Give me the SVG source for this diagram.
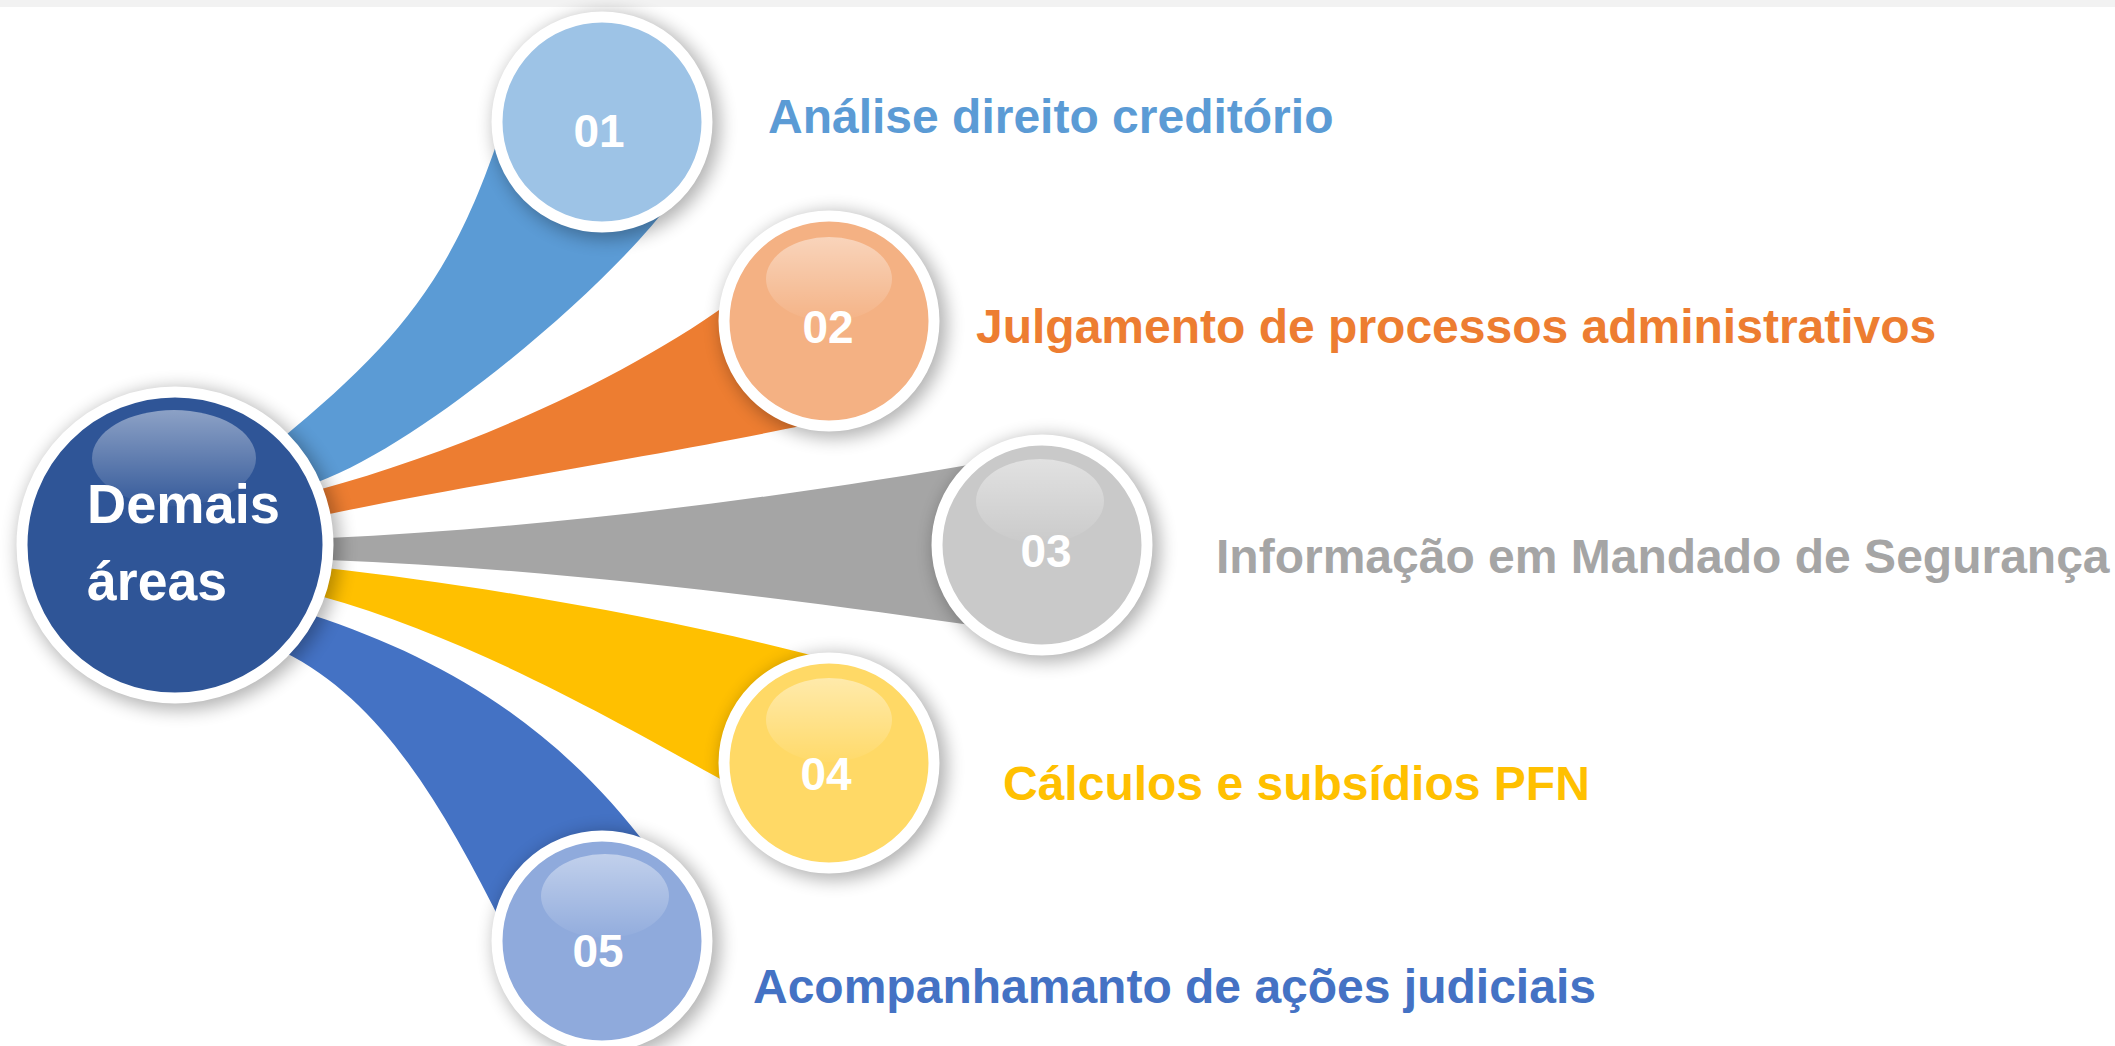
<svg xmlns="http://www.w3.org/2000/svg" width="2115" height="1046" viewBox="0 0 2115 1046">
<defs>
<style>
.num{font-family:"Liberation Sans",Arial,sans-serif;font-weight:bold;font-size:46px;fill:#ffffff;text-anchor:middle}
.lbl{font-family:"Liberation Sans",Arial,sans-serif;font-weight:bold;font-size:48px}
.ring{stroke:#ffffff;stroke-width:11}
.shadow{fill:#000000;opacity:0.3}
.gloss{fill:url(#gloss)}
</style>
<filter id="blur" x="-40%" y="-40%" width="180%" height="180%">
<feGaussianBlur stdDeviation="9"/>
</filter>
<linearGradient id="gloss" x1="0" y1="0" x2="0" y2="1">
<stop offset="0" stop-color="#ffffff" stop-opacity="0.45"/>
<stop offset="1" stop-color="#ffffff" stop-opacity="0.03"/>
</linearGradient>
</defs>
<rect x="0" y="0" width="2115" height="1046" fill="#ffffff"/>
<rect x="0" y="0" width="2115" height="7" fill="#f2f2f2"/>
<g id="connectors">
<path d="M 280,440 C 398,342 455,278 505,118 L 672,200 C 615,280 430,440 318,482 Z" fill="#5b9bd5"/>
<path d="M 318,490 C 480,446 640,370 740,295 L 805,425 C 680,452 450,488 325,515 Z" fill="#ed7d31"/>
<path d="M 328,538 C 550,528 800,495 985,462 L 990,628 C 800,600 550,568 328,560 Z" fill="#a5a5a5"/>
<path d="M 326,568 C 480,585 680,620 830,660 L 740,790 C 640,735 480,640 320,596 Z" fill="#ffc000"/>
<path d="M 312,615 C 450,660 560,730 650,850 L 505,930 C 440,800 380,700 284,652 Z" fill="#4472c4"/>
</g>
<g id="node-center">
<circle class="shadow" cx="179" cy="549" r="161" filter="url(#blur)"/>
<circle class="ring" cx="175" cy="545" r="153" fill="#2f5597"/>
<ellipse class="gloss" cx="174" cy="458" rx="82" ry="48"/>
<text x="87" y="523" font-family="Liberation Sans, Arial, sans-serif" font-weight="bold" font-size="55" fill="#ffffff" textLength="193" lengthAdjust="spacingAndGlyphs">Demais</text>
<text x="87" y="600" font-family="Liberation Sans, Arial, sans-serif" font-weight="bold" font-size="55" fill="#ffffff" textLength="140" lengthAdjust="spacingAndGlyphs">áreas</text>
</g>
<g id="node-01">
<circle class="shadow" cx="607" cy="126" r="113" filter="url(#blur)"/>
<circle class="ring" cx="602" cy="122" r="105" fill="#9dc3e6"/>
<text class="num" x="599" y="147">01</text>
<text class="lbl" x="768" y="133" fill="#5b9bd5">Análise direito creditório</text>
</g>
<g id="node-02">
<circle class="shadow" cx="834" cy="325" r="113" filter="url(#blur)"/>
<circle class="ring" cx="829" cy="321" r="105" fill="#f4b183"/>
<ellipse class="gloss" cx="829" cy="279" rx="63" ry="42"/>
<text class="num" x="828" y="343">02</text>
<text class="lbl" x="976" y="343" fill="#ed7d31">Julgamento de processos administrativos</text>
</g>
<g id="node-03">
<circle class="shadow" cx="1047" cy="549" r="113" filter="url(#blur)"/>
<circle class="ring" cx="1042" cy="545" r="105" fill="#c9c9c9"/>
<ellipse class="gloss" cx="1040" cy="501" rx="64" ry="42"/>
<text class="num" x="1046" y="567">03</text>
<text class="lbl" x="1216" y="573" fill="#a5a5a5">Informação em Mandado de Segurança</text>
</g>
<g id="node-04">
<circle class="shadow" cx="834" cy="767" r="113" filter="url(#blur)"/>
<circle class="ring" cx="829" cy="763" r="105" fill="#ffd966"/>
<ellipse class="gloss" cx="829" cy="720" rx="63" ry="42"/>
<text class="num" x="826" y="790">04</text>
<text class="lbl" x="1003" y="800" fill="#ffc000">Cálculos e subsídios PFN</text>
</g>
<g id="node-05">
<circle class="shadow" cx="607" cy="945" r="113" filter="url(#blur)"/>
<circle class="ring" cx="602" cy="941" r="105" fill="#8faadc"/>
<ellipse class="gloss" cx="605" cy="896" rx="64" ry="42"/>
<text class="num" x="598" y="967">05</text>
<text class="lbl" x="753" y="1003" fill="#4472c4">Acompanhamanto de ações judiciais</text>
</g>
</svg>
